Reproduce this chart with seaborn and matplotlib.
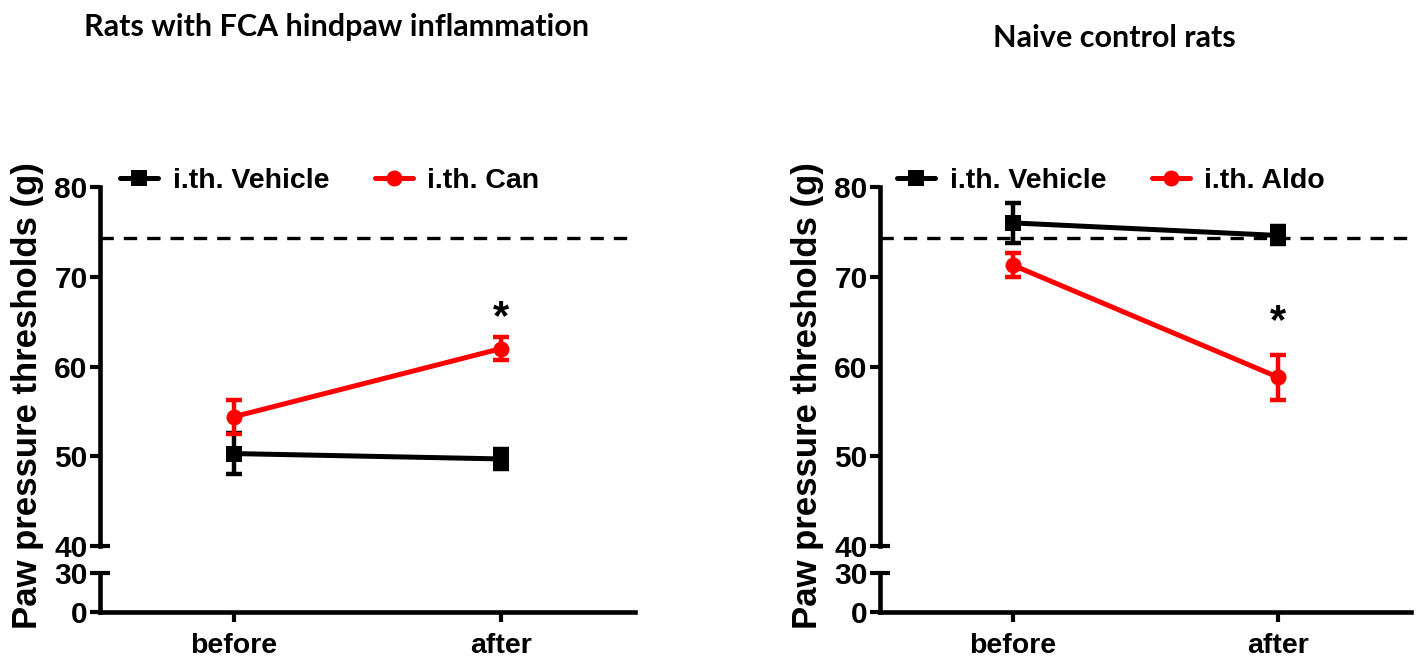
import numpy as np
import pandas as pd
import matplotlib
matplotlib.use("Agg")
import matplotlib.pyplot as plt
import matplotlib.transforms as mtransforms
import seaborn as sns

# --- data (mean +/- SEM) ---
time_points = ["before", "after"]

fca_vehicle = [50.3, 49.7]
fca_vehicle_sem = [2.3, 1.1]
fca_can = [54.4, 62.0]
fca_can_sem = [1.9, 1.3]

naive_vehicle = [76.0, 74.6]
naive_vehicle_sem = [2.2, 1.0]
naive_aldo = [71.3, 58.8]
naive_aldo_sem = [1.3, 2.5]

baseline = 74.3
star_y = {"fca": 65.4, "naive": 65.0}

sns.set_style("ticks")
plt.rcParams["font.family"] = ["Liberation Sans", "DejaVu Sans"]
plt.rcParams["font.weight"] = "bold"
for k in ("text.color", "axes.edgecolor", "axes.labelcolor", "xtick.color", "ytick.color"):
    plt.rcParams[k] = "black"

RED = "#ff0000"
BLACK = "#000000"
W, H = 1418, 663

fig = plt.figure(figsize=(W / 100, H / 100), dpi=100)


def px_axes(x0, x1, ytop, ybot):
    return fig.add_axes([x0 / W, 1 - ybot / H, (x1 - x0) / W, (ybot - ytop) / H])


def panel(x0, x1, vals, title, title_xy, star, leg_x):
    ax = px_axes(x0, x1, 187, 546)
    axb = px_axes(x0, x1, 573, 612)

    names = ["i.th. Vehicle", vals[1][0]]
    df = pd.DataFrame({
        "time": time_points * 2,
        "threshold": vals[0][1] + vals[1][1],
        "group": [names[0]] * 2 + [names[1]] * 2,
    })
    pal = {names[0]: BLACK, names[1]: RED}
    sns.lineplot(data=df, x="time", y="threshold", hue="group", style="group",
                 markers={names[0]: "s", names[1]: "o"}, dashes=False,
                 palette=pal, sort=False, errorbar=None, ax=ax,
                 linewidth=3.6, markersize=11.5, markeredgewidth=0, zorder=3)
    for (name, m, s) in [(names[0], vals[0][1], vals[0][2]), (names[1], vals[1][1], vals[1][2])]:
        ax.errorbar(time_points, m, yerr=s, fmt="none", ecolor=pal[name],
                    elinewidth=3.2, capsize=5.5, capthick=3.2, zorder=4)

    handles, labels = ax.get_legend_handles_labels()
    ax.legend(handles, labels, ncol=2, loc="center left",
              bbox_to_anchor=(leg_x / W, 1 - 181 / H), bbox_transform=fig.transFigure,
              frameon=False, fontsize=20.5, handlelength=1.35, handletextpad=0.5,
              columnspacing=1.6, borderpad=0, borderaxespad=0)

    ax.axhline(baseline, color=BLACK, lw=2.4, dashes=(4, 3), zorder=2)
    ax.text(1, star, "*", ha="center", va="center", fontsize=30, fontweight="bold")

    ax.set_ylim(40, 80)
    ax.set_xlim(-0.5, 1.5)
    ax.set_yticks([40, 50, 60, 70, 80])
    ax.set_xticks([])
    ax.set_xlabel("")
    ax.set_ylabel("")
    sns.despine(ax=ax, bottom=True)

    axb.set_ylim(0, 30)
    axb.set_xlim(-0.5, 1.5)
    axb.set_yticks([0, 30])
    axb.set_xticks([0, 1], time_points)
    sns.despine(ax=axb)

    for a in (ax, axb):
        for sp in a.spines.values():
            sp.set_linewidth(3.3)
        a.tick_params(width=3.0, length=7, labelsize=21.5, pad=2, color=BLACK)
        a.patch.set_alpha(0)
    axb.tick_params(axis="x", labelsize=20.5, pad=8)

    # break marks: short cross ticks at 40 and 30
    for a, yv in ((ax, 40), (axb, 30)):
        tr = mtransforms.blended_transform_factory(a.transAxes, a.transData)
        a.plot([0, 0.018], [yv, yv], color=BLACK, lw=3.0, transform=tr,
               clip_on=False, solid_capstyle="butt")

    fig.text(title_xy[0] / W, 1 - title_xy[1] / H, title, ha="center", va="center",
             fontsize=22, fontweight="bold", family=["Lato", "DejaVu Sans"])
    fig.text((x0 - 72) / W, 1 - 396 / H, "Paw pressure thresholds (g)", rotation=90,
             ha="center", va="center", fontsize=25, fontweight="bold")


panel(100, 635,
      [("i.th. Vehicle", fca_vehicle, fca_vehicle_sem), ("i.th. Can", fca_can, fca_can_sem)],
      "Rats with FCA hindpaw inflammation", (337, 27), star_y["fca"], 120)
panel(880, 1411,
      [("i.th. Vehicle", naive_vehicle, naive_vehicle_sem), ("i.th. Aldo", naive_aldo, naive_aldo_sem)],
      "Naive control rats", (1114, 38), star_y["naive"], 897)

fig.savefig("out.png", dpi=100, facecolor="white")
